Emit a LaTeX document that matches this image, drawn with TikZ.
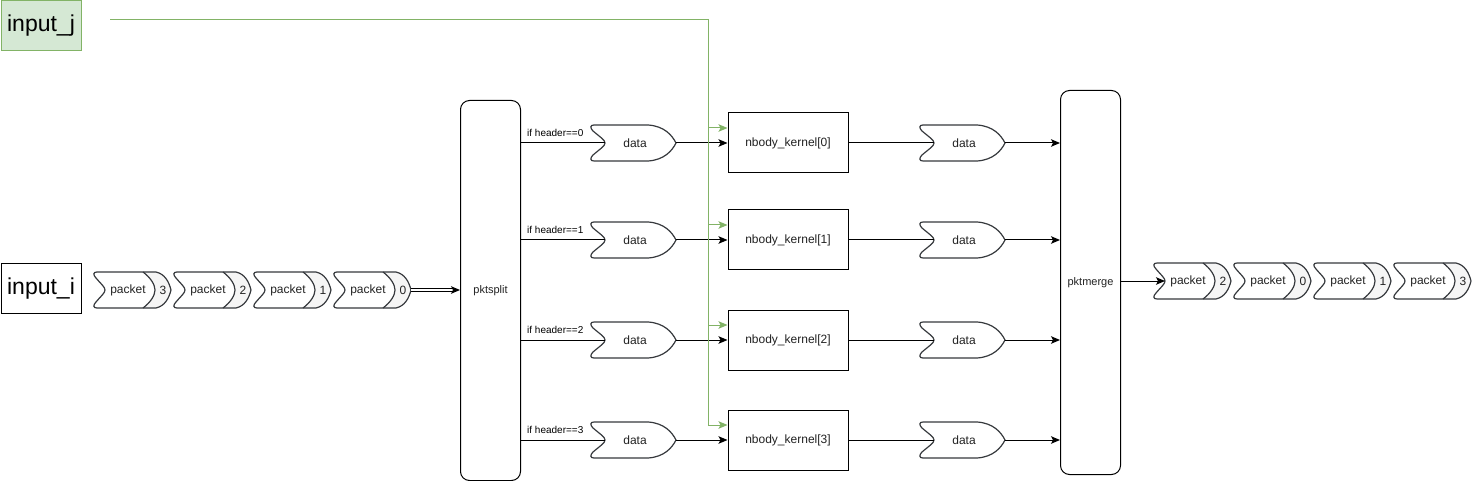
\documentclass[tikz,border=0pt]{standalone}
\usepackage{fontspec}
\setmainfont{Liberation Sans}
\usetikzlibrary{arrows.meta}
\definecolor{gline}{HTML}{82B366}
\definecolor{gfill}{HTML}{D5E8D4}
\definecolor{shp}{HTML}{36393D}
\definecolor{pgray}{HTML}{F5F5F5}
\definecolor{txt}{HTML}{222222}
\tikzset{
  x=1pt, y=-1pt,
  lbl/.style={font=\fontsize{12}{14}\selectfont, text=txt, inner sep=0pt},
  smalllbl/.style={font=\fontsize{10}{12}\selectfont, text=black, inner sep=0pt, anchor=south west},
  biglbl/.style={font=\fontsize{23}{26}\selectfont, text=black, inner sep=0pt},
  shapeline/.style={draw=shp, line width=1.2pt},
  box/.style={draw=black, line width=1pt, fill=white},
  conn/.style={draw=black, line width=1pt},
  arr/.style={conn, -{Stealth[length=9pt,width=7.5pt,inset=2pt]}},
  garr/.style={draw=gline, line width=1pt, -{Stealth[length=9pt,width=7.5pt,inset=2pt]}},
  pics/datashape/.style={code={
    \path[shapeline, fill=white] (4,-18) .. controls (0,-18) and (0,-15) .. (3,-12)
      .. controls (10,-6) and (15,-3) .. (15,0)
      .. controls (15,3) and (10,6) .. (3,12)
      .. controls (0,15) and (0,18) .. (4,18) -- (58,18)
      .. controls (74,17) and (82,8) .. (86,0)
      .. controls (82,-8) and (74,-17) .. (58,-18) -- cycle;
    \node[lbl] at (45,0) {data};
    \coordinate (-in) at (15,0);
    \coordinate (-out) at (86,0);
  }},
  pics/packet/.style={code={
    \path[fill=white] (4,-18) .. controls (0,-18) and (0,-15) .. (3,-12)
      .. controls (8,-6) and (12,-3) .. (12,0)
      .. controls (12,3) and (8,6) .. (3,12)
      .. controls (0,15) and (0,18) .. (4,18) -- (63,18)
      .. controls (72,16) and (76,8) .. (78,0)
      .. controls (76,-8) and (72,-16) .. (63,-18) -- cycle;
    \path[fill=pgray] (50,-18) .. controls (58,-12) and (62,-5) .. (62,0)
      .. controls (62,5) and (58,12) .. (50,18) -- (63,18)
      .. controls (72,16) and (76,8) .. (78,0)
      .. controls (76,-8) and (72,-16) .. (63,-18) -- cycle;
    \draw[shapeline] (50,-18) .. controls (58,-12) and (62,-5) .. (62,0)
      .. controls (62,5) and (58,12) .. (50,18);
    \draw[shapeline] (4,-18) .. controls (0,-18) and (0,-15) .. (3,-12)
      .. controls (8,-6) and (12,-3) .. (12,0)
      .. controls (12,3) and (8,6) .. (3,12)
      .. controls (0,15) and (0,18) .. (4,18) -- (63,18)
      .. controls (72,16) and (76,8) .. (78,0)
      .. controls (76,-8) and (72,-16) .. (63,-18) -- cycle;
    \node[lbl] at (35,0) {packet};
    \node[lbl] at (70,0) {#1};
    \coordinate (-in) at (12,0);
    \coordinate (-out) at (78,0);
  }}
}
\begin{document}
\begin{tikzpicture}
\useasboundingbox (0,0) rectangle (1481,481);

% inputs
\node[draw=gline, fill=gfill, line width=1pt, minimum width=80pt, minimum height=50pt, anchor=north west, inner sep=0pt] (inj) at (0.5,0.5) {};
\node[biglbl] at (inj.center) {input\_j};
\node[box, minimum width=80pt, minimum height=50pt, anchor=north west, inner sep=0pt] (ini) at (0.5,263) {};
\node[biglbl] at (ini.center) {input\_i};

% input packets
\pic (pi3) at (93,290) {packet={3}};
\pic (pi2) at (173,290) {packet={2}};
\pic (pi1) at (253,290) {packet={1}};
\pic (pi0) at (333,290) {packet={0}};

% pktsplit / pktmerge
\node[box, rounded corners=9pt, minimum width=60pt, minimum height=380pt, anchor=north west, inner sep=0pt] (split) at (460,100) {};
\node[lbl, font=\fontsize{11}{13}\selectfont] at (split.center) {pktsplit};
\node[box, rounded corners=9pt, minimum width=60pt, minimum height=384pt, anchor=north west, inner sep=0pt] (merge) at (1060,90) {};
\node[lbl, font=\fontsize{11}{13}\selectfont] at (merge.center) {pktmerge};

\draw[conn, double, double distance=1.2pt, -{Stealth[length=9pt,width=7.5pt,inset=2pt]}] (pi0-out) -- (split.west |- pi0-out);

% green source
\coordinate (jstart) at (110,20);
\coordinate (jcorner) at (708,20);

% rows
\foreach \i/\y in {0/143,1/240,2/340,3/440}{
  \pic (da\i) at (590,\y) {datashape};
  \node[box, minimum width=120pt, minimum height=60pt, inner sep=0pt] (k\i) at (788,\y) {};
  \node[lbl] at (k\i.center) {nbody\_kernel[\i]};
  \pic (db\i) at (919,\y) {datashape};
  \draw[conn] (split.east |- da\i-in) -- (da\i-in);
  \node[smalllbl] at (527,\y-6) {if header==\i};
  \draw[arr] (da\i-out) -- (k\i.west |- da\i-out);
  \draw[conn] (k\i.east |- db\i-in) -- (db\i-in);
  \draw[arr] (db\i-out) -- (merge.west |- db\i-out);
  \draw[garr] (jstart) -- (jcorner) |- ([yshift=15pt]k\i.west);
}

% output packets
\pic (po2) at (1153,281) {packet={2}};
\pic (po0) at (1233,281) {packet={0}};
\pic (po1) at (1313,281) {packet={1}};
\pic (po3) at (1393,281) {packet={3}};
\draw[arr] (merge.east |- po2-in) -- (po2-in);
\end{tikzpicture}
\end{document}
